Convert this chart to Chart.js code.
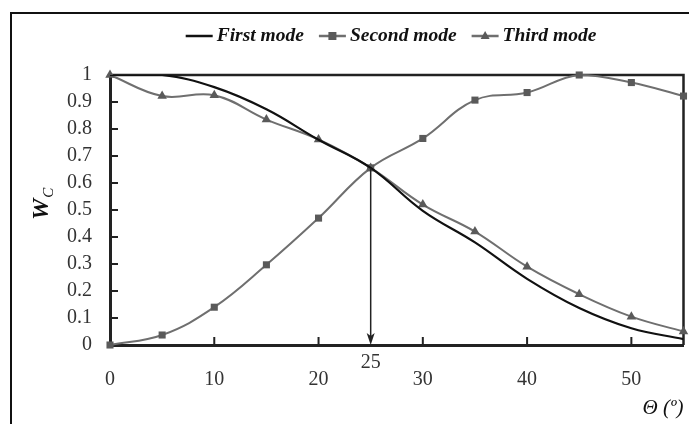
<!DOCTYPE html>
<html>
<head>
<meta charset="utf-8">
<script src="https://cdn.jsdelivr.net/npm/chart.js@4.4.1/dist/chart.umd.min.js"></script>
<style>
  html, body { margin: 0; padding: 0; background: #fff; }
  #wrap { width: 689px; height: 424px; }
</style>
</head>
<body>
<div id="wrap"><canvas id="c" width="689" height="424"></canvas></div>
<script>
// angle (deg) and the three mode weights
const theta = [0, 5, 10, 15, 20, 25, 30, 35, 40, 45, 50, 55];
const firstMode = [1.0, 1.0, 0.955, 0.873, 0.76, 0.656, 0.497, 0.38, 0.245, 0.137, 0.062, 0.022];
const secondMode = [0.0, 0.037, 0.14, 0.297, 0.47, 0.656, 0.765, 0.907, 0.935, 1.0, 0.972, 0.922];
const thirdMode = [1.0, 0.922, 0.925, 0.835, 0.761, 0.656, 0.52, 0.42, 0.29, 0.188, 0.105, 0.05];
const xTicks = [0, 10, 20, 30, 40, 50];
const crossAt = 25;

const SERIF = '"Liberation Serif", "Times New Roman", serif';
const gray = '#6f6f6f';
const markGray = '#5a5a5a';

const pts = vals => theta.map((t, i) => ({ x: t, y: vals[i] }));

// outer frame, inward ticks, arrow, y title, legend
const extras = {
    id: 'extras',
    beforeDatasetsDraw(chart) {
        const { ctx, chartArea: a, scales: { x, y } } = chart;
        ctx.save();
        ctx.strokeStyle = '#222';
        ctx.lineWidth = 2;
        ctx.beginPath();
        xTicks.forEach(v => {
            if (v === 0) return;
            const px = x.getPixelForValue(v);
            ctx.moveTo(px, a.bottom); ctx.lineTo(px, a.bottom - 8);
        });
        y.ticks.forEach(t => {
            const py = y.getPixelForValue(t.value);
            ctx.moveTo(a.left, py); ctx.lineTo(a.left + 8, py);
        });
        ctx.stroke();
        // plot frame top / right
        ctx.lineWidth = 2.5;
        ctx.beginPath();
        ctx.moveTo(a.left, a.top); ctx.lineTo(a.right, a.top); ctx.lineTo(a.right, a.bottom);
        ctx.stroke();
        ctx.restore();
    },
    afterDraw(chart) {
        const { ctx, chartArea: a, scales: { x, y } } = chart;
        ctx.save();
        // outer box
        ctx.strokeStyle = '#111';
        ctx.lineWidth = 2;
        ctx.strokeRect(11, 13, 720, 520);

        // arrow from crossing point down to axis
        const ax = x.getPixelForValue(crossAt);
        const ay = y.getPixelForValue(firstMode[theta.indexOf(crossAt)]);
        ctx.strokeStyle = '#222';
        ctx.fillStyle = '#222';
        ctx.lineWidth = 1.5;
        ctx.beginPath();
        ctx.moveTo(ax, ay); ctx.lineTo(ax, a.bottom - 8);
        ctx.stroke();
        ctx.beginPath();
        ctx.moveTo(ax, a.bottom);
        ctx.lineTo(ax - 4, a.bottom - 12);
        ctx.lineTo(ax, a.bottom - 9);
        ctx.lineTo(ax + 4, a.bottom - 12);
        ctx.closePath();
        ctx.fill();
        ctx.font = '20px ' + SERIF;
        ctx.fillStyle = '#333';
        ctx.textAlign = 'center';
        ctx.textBaseline = 'middle';
        ctx.fillText(String(crossAt), ax, a.bottom + 18);

        // y axis title W_C
        ctx.translate(40, 220);
        ctx.rotate(-Math.PI / 2);
        ctx.fillStyle = '#111';
        ctx.textAlign = 'left';
        ctx.textBaseline = 'alphabetic';
        ctx.font = 'italic bold 24px ' + SERIF;
        ctx.fillText('W', 0, 8);
        const ww = ctx.measureText('W').width;
        ctx.font = 'italic 15px ' + SERIF;
        ctx.fillText('C', ww + 1, 13);
        ctx.setTransform(1, 0, 0, 1, 0, 0);

        // legend
        ctx.font = 'italic bold 19.5px ' + SERIF;
        ctx.textBaseline = 'middle';
        const ly = 36;
        const items = chart.data.datasets.map(d => ({ d, w: ctx.measureText(d.label).width }));
        const lineLen = 27, gap = 4, spacing = 15;
        const total = items.reduce((s, it) => s + lineLen + gap + it.w, 0) + spacing * (items.length - 1);
        let lx = 391 - total / 2;
        items.forEach(({ d, w }) => {
            ctx.strokeStyle = d.borderColor;
            ctx.lineWidth = 2.5;
            ctx.beginPath();
            ctx.moveTo(lx, ly); ctx.lineTo(lx + lineLen, ly);
            ctx.stroke();
            const cx = lx + lineLen / 2;
            ctx.fillStyle = d.pointBackgroundColor || d.borderColor;
            if (d.pointStyle === 'rect') {
                ctx.fillRect(cx - 4, ly - 4, 8, 8);
            } else if (d.pointStyle === 'triangle') {
                ctx.beginPath();
                ctx.moveTo(cx, ly - 5); ctx.lineTo(cx + 4.5, ly + 3); ctx.lineTo(cx - 4.5, ly + 3);
                ctx.closePath(); ctx.fill();
            }
            ctx.fillStyle = '#111';
            ctx.fillText(d.label, lx + lineLen + gap, ly);
            lx += lineLen + gap + w + spacing;
        });
        ctx.restore();
    }
};

new Chart(document.getElementById('c'), {
    type: 'line',
    data: {
        datasets: [
            {
                label: 'First mode',
                data: pts(firstMode),
                borderColor: '#111',
                borderWidth: 2.2,
                pointRadius: 0,
                tension: 0.4,
                pointStyle: 'line'
            },
            {
                label: 'Second mode',
                data: pts(secondMode),
                borderColor: gray,
                borderWidth: 2,
                pointStyle: 'rect',
                pointRadius: 5,
                pointBackgroundColor: markGray,
                pointBorderColor: markGray,
                pointBorderWidth: 0,
                tension: 0.4,
                clip: false
            },
            {
                label: 'Third mode',
                data: pts(thirdMode),
                borderColor: gray,
                borderWidth: 2,
                pointStyle: 'triangle',
                pointRadius: 5.5,
                pointBackgroundColor: markGray,
                pointBorderColor: markGray,
                pointBorderWidth: 0,
                tension: 0.4,
                clip: false
            }
        ]
    },
    options: {
        responsive: false,
        animation: false,
        events: [],
        layout: { padding: { left: 0, right: 4, top: 75, bottom: 0 } },
        plugins: { legend: { display: false }, tooltip: { enabled: false } },
        scales: {
            x: {
                type: 'linear',
                min: 0, max: 55,
                ticks: { stepSize: 10, padding: 23, color: '#333', font: { family: SERIF, size: 20 } },
                afterBuildTicks: s => { s.ticks = xTicks.map(v => ({ value: v })); },
                afterFit: s => { s.height = 79; },
                grid: { display: false, drawTicks: false },
                border: { display: true, color: '#222', width: 3 },
                title: {
                    display: true, text: 'Θ (º)', align: 'end', color: '#111',
                    font: { family: SERIF, size: 21, style: 'italic' }, padding: { top: 0, bottom: 3 }
                }
            },
            y: {
                min: 0, max: 1,
                ticks: {
                    stepSize: 0.1, padding: 18, color: '#333', font: { family: SERIF, size: 20 },
                    callback: v => String(Math.round(v * 10) / 10)
                },
                afterFit: s => { s.width = 110; },
                grid: { display: false, drawTicks: false },
                border: { display: true, color: '#222', width: 3 }
            }
        }
    },
    plugins: [extras]
});
</script>
</body>
</html>
